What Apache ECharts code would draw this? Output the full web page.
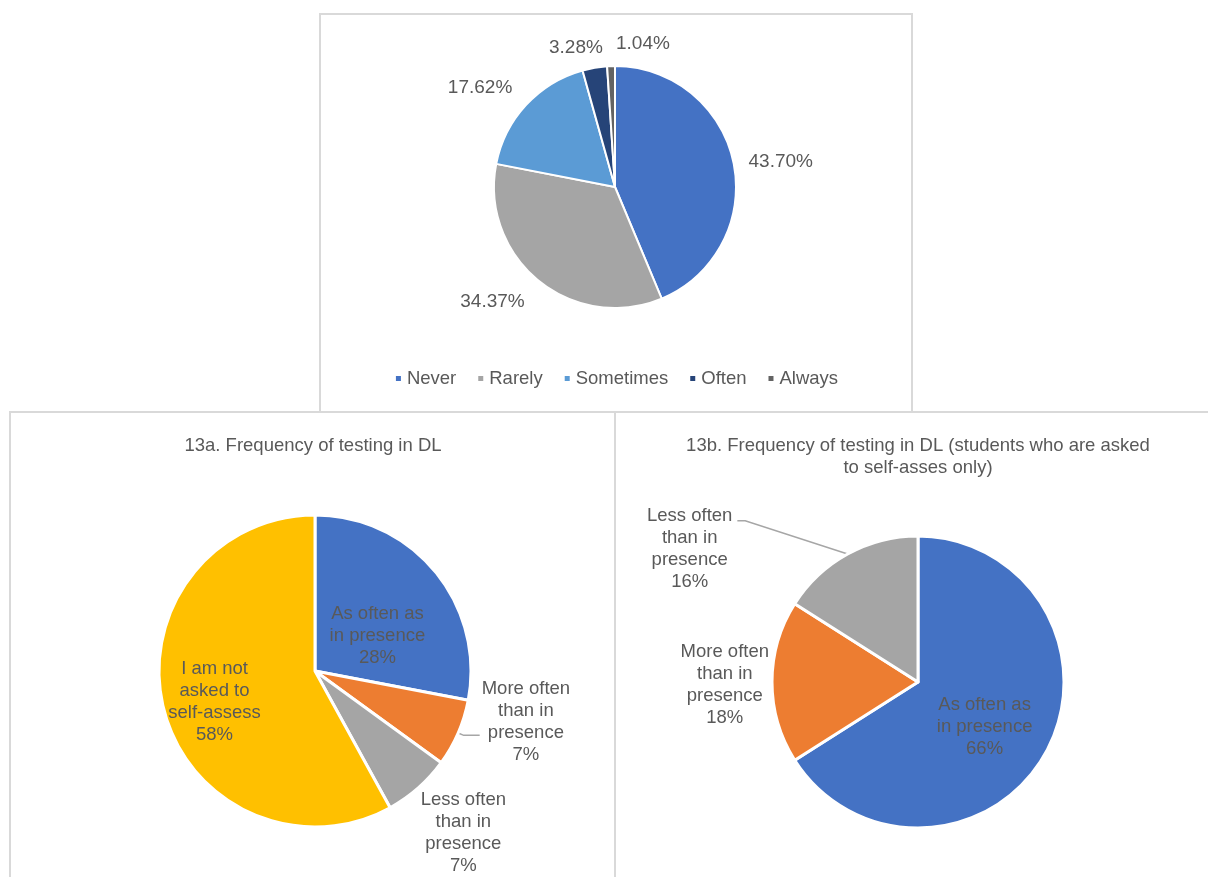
<!DOCTYPE html>
<html>
<head>
<meta charset="utf-8">
<script src="https://cdn.jsdelivr.net/npm/echarts@6/dist/echarts.min.js"></script>
<style>
  html, body { margin: 0; padding: 0; background: #fff; width: 1208px; height: 877px; overflow: hidden; position: relative; }
  .panel { position: absolute; box-sizing: border-box; border: 2px solid #d9d9d9; background: #fff; }
</style>
</head>
<body>
<div id="p1" class="panel" style="left:319px; top:13px; width:594px; height:401px;"></div>
<div id="p2" class="panel" style="left:9px; top:411px; width:608px; height:480px;"></div>
<div id="p3" class="panel" style="left:614px; top:411px; width:608px; height:480px;"></div>
<script>
// ---------- Data ----------
const freqCategories = ['Never', 'Rarely', 'Sometimes', 'Often', 'Always'];
const freqValues = [43.70, 34.37, 17.62, 3.28, 1.04];

const titleA = '13a. Frequency of testing in DL';
const catsA = ['As often as in presence', 'More often than in presence', 'Less often than in presence', 'I am not asked to self-assess'];
const linesA = [['As often as', 'in presence'], ['More often', 'than in', 'presence'], ['Less often', 'than in', 'presence'], ['I am not', 'asked to', 'self-assess']];
const valuesA = [28, 7, 7, 58];

const titleB = '13b. Frequency of testing in DL (students who are asked\nto self-asses only)';
const catsB = ['As often as in presence', 'More often than in presence', 'Less often than in presence'];
const linesB = [['As often as', 'in presence'], ['More often', 'than in', 'presence'], ['Less often', 'than in', 'presence']];
const valuesB = [66, 18, 16];

// ---------- Styles ----------
const freqColors = ['#4472C4', '#A5A5A5', '#5B9BD5', '#264478', '#636363'];
const colorsA = ['#4472C4', '#ED7D31', '#A5A5A5', '#FFC000'];
const colorsB = ['#4472C4', '#ED7D31', '#A5A5A5'];
const FONT = '"Liberation Sans", Arial, sans-serif';
const TXT = '#595959';
const FS = 18.5;
const LINE = { color: '#a6a6a6', width: 1.5 };

// per-slice label placement styles (Excel-like best fit)
const topLabelStyle = [
  { label: {}, labelLine: { length: 6, length2: 4 } },
  { label: { padding: [20, 0, 0, 0] }, labelLine: { length: 14, length2: 0 } },
  { label: { padding: [0, 0, 18, 0] }, labelLine: { length: 12, length2: 0 } },
  { label: { alignTo: 'edge', edgeDistance: 228 }, labelLine: { length: 20, length2: 0 } },
  { label: { alignTo: 'edge', edgeDistance: 295 }, labelLine: { length: 22, length2: 0 } }
];
const styleA = [
  { label: { position: 'inside', padding: [34, 0, 0, 0] }, labelLine: { show: false } },
  { label: { position: 'outside', padding: [0, 0, 26, 0], distanceToLabelLine: 2 }, labelLine: { show: true, length: 6, length2: 16, lineStyle: LINE } },
  { label: { position: 'outside', alignTo: 'edge', edgeDistance: 109 }, labelLine: { show: false, length: 60, length2: 0 } },
  { label: { position: 'inside', padding: [22, 44, 0, 0] }, labelLine: { show: false } }
];
const styleB = [
  { label: { position: 'inside', padding: [16, 0, 0, 0] }, labelLine: { show: false } },
  { label: { position: 'outside', padding: [6, 0, 0, 0], distanceToLabelLine: 2 }, labelLine: { show: false, length: 1, length2: 0 } },
  { label: { position: 'outside', padding: [56, 0, 0, 0] }, labelLine: { show: true, length: 38, length2: 92, minTurnAngle: 162, lineStyle: LINE } }
];

function richLabel(lines) {
  return lines.map(l => '{c|' + l + '}').join('\n');
}
const richDef = { c: { align: 'center', color: TXT, fontSize: FS, fontFamily: FONT, lineHeight: 22 } };
const richTop = { c: { align: 'center', color: TXT, fontSize: 19, fontFamily: FONT, lineHeight: 22 } };

// ---------- Top chart ----------
const c1 = echarts.init(document.getElementById('p1'), null, { renderer: 'canvas' });
c1.setOption({
  animation: false,
  textStyle: { fontFamily: FONT },
  legend: {
    data: freqCategories,
    top: 349,
    left: 'center',
    icon: 'rect',
    itemWidth: 7,
    itemHeight: 7,
    itemGap: 20,
    textStyle: { color: TXT, fontSize: FS, fontFamily: FONT }
  },
  series: [{
    type: 'pie',
    center: [294, 172],
    radius: 121,
    startAngle: 90,
    clockwise: true,
    avoidLabelOverlap: false,
    labelLayout: { hideOverlap: false },
    itemStyle: { borderColor: '#fff', borderWidth: 2 },
    label: { show: true, position: 'outside', color: TXT, fontSize: 19, fontFamily: FONT, rich: richTop,
      formatter: p => '{c|' + p.value.toFixed(2) + '%}' },
    labelLine: { show: false },
    data: freqCategories.map((n, i) => ({
      name: n, value: freqValues[i], itemStyle: { color: freqColors[i] },
      label: topLabelStyle[i].label, labelLine: topLabelStyle[i].labelLine
    }))
  }]
});

function subPie(el, title, cats, lines, values, colors, styles, center, radius) {
  const c = echarts.init(el, null, { renderer: 'canvas' });
  c.setOption({
    animation: false,
    textStyle: { fontFamily: FONT },
    title: { text: title, left: 'center', top: 17,
      textStyle: { color: TXT, fontSize: FS, fontWeight: 'normal', fontFamily: FONT, lineHeight: 22 } },
    series: [{
      type: 'pie',
      center: center,
      radius: radius,
      startAngle: 90,
      clockwise: true,
      avoidLabelOverlap: false,
      labelLayout: { hideOverlap: false },
      itemStyle: { borderColor: '#fff', borderWidth: 3 },
      label: { color: TXT, fontSize: FS, fontFamily: FONT, lineHeight: 22, rich: richDef },
      labelLine: { lineStyle: LINE },
      data: cats.map((n, i) => ({
        name: n, value: values[i],
        itemStyle: { color: colors[i] },
        label: Object.assign({ formatter: richLabel(lines[i].concat([values[i] + '%'])) }, styles[i].label),
        labelLine: styles[i].labelLine
      }))
    }]
  });
  return c;
}

subPie(document.getElementById('p2'), titleA, catsA, linesA, valuesA, colorsA, styleA, [304, 258], 156);
subPie(document.getElementById('p3'), titleB, catsB, linesB, valuesB, colorsB, styleB, [302, 269], 146);
</script>
</body>
</html>
